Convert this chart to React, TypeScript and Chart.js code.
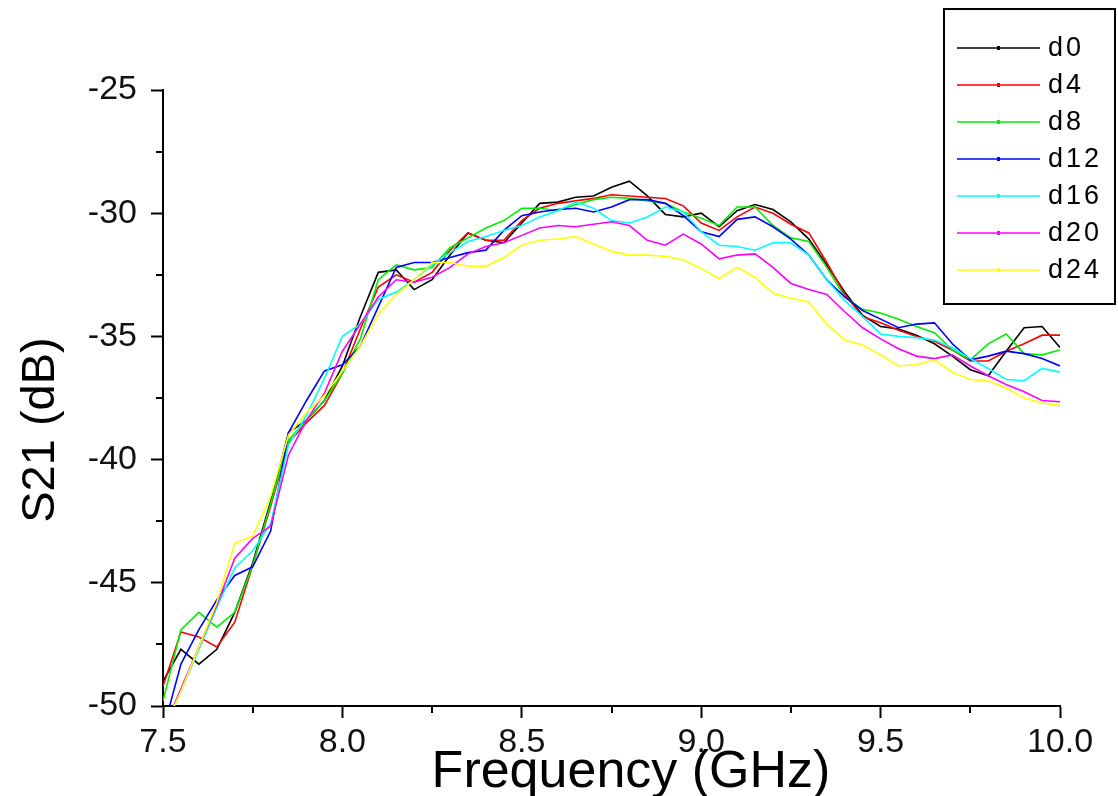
import React, { useEffect, useRef } from "react";
import { Chart, registerables } from "chart.js";

Chart.register(...registerables);

const FREQ = [
  7.5, 7.55, 7.6, 7.65, 7.7, 7.75, 7.8, 7.85, 7.9, 7.95,
  8.0, 8.05, 8.1, 8.15, 8.2, 8.25, 8.3, 8.35, 8.4, 8.45,
  8.5, 8.55, 8.6, 8.65, 8.7, 8.75, 8.8, 8.85, 8.9, 8.95,
  9.0, 9.05, 9.1, 9.15, 9.2, 9.25, 9.3, 9.35, 9.4, 9.45,
  9.5, 9.55, 9.6, 9.65, 9.7, 9.75, 9.8, 9.85, 9.9, 9.95,
  10.0,
];

const D0 = [
  -49.0, -47.7, -48.3, -47.7, -46.2, -44.2, -41.7, -38.9, -38.4, -37.6,
  -36.2, -34.2, -32.4, -32.3, -33.1, -32.7, -31.7, -30.8, -31.1, -31.2,
  -30.4, -29.6, -29.55, -29.35, -29.3, -28.95, -28.7, -29.3, -30.05, -30.15,
  -30.0, -30.55, -29.9, -29.65, -29.85, -30.35, -31.05, -32.1, -33.2, -34.15,
  -34.6, -34.7, -34.95, -35.3, -35.8, -36.35, -36.6, -35.6, -34.65, -34.6,
  -35.45,
];
const D4 = [
  -49.2, -47.0, -47.2, -47.6, -46.6, -44.3, -41.9, -39.3, -38.5, -37.8,
  -36.5, -34.7, -33.0, -32.5, -32.8, -32.4, -31.5, -30.8, -31.1, -31.1,
  -30.3, -29.8, -29.6, -29.5, -29.4, -29.25, -29.3, -29.35, -29.4, -29.7,
  -30.4, -30.7, -30.15, -29.75, -30.0, -30.45, -30.8, -32.0, -33.3, -34.2,
  -34.45, -34.75, -35.0, -35.2, -35.55, -36.0, -36.0, -35.6, -35.3, -34.95,
  -34.95,
];
const D8 = [
  -49.8, -46.9, -46.2, -46.8, -46.2, -44.3, -41.8, -39.2, -38.4, -37.6,
  -36.5, -35.1, -32.7, -32.1, -32.3, -32.2, -31.4, -31.0, -30.6, -30.3,
  -29.8, -29.8, -29.9, -29.65, -29.45, -29.35, -29.4, -29.5, -29.6, -29.95,
  -30.2, -30.5, -29.75, -29.75, -30.5, -31.0, -31.15, -32.2, -33.4, -33.9,
  -34.05, -34.3, -34.6, -34.85, -35.55, -35.95, -35.3, -34.9, -35.7, -35.75,
  -35.55,
];
const D12 = [
  -51.0, -48.3, -46.9, -45.7, -44.7, -44.35, -42.9, -38.9, -37.6, -36.4,
  -36.15, -35.4, -33.8, -32.2, -32.0, -32.0, -31.8, -31.6, -31.5, -30.7,
  -30.1, -29.95, -29.85, -29.8, -29.95, -29.75, -29.45, -29.45, -29.6, -30.1,
  -30.75, -30.95, -30.25, -30.15, -30.55, -31.05, -31.7, -32.7, -33.4, -33.95,
  -34.3, -34.65, -34.5, -34.45, -35.3, -35.95, -35.8, -35.6, -35.7, -35.9,
  -36.2,
];
const D16 = [
  -51.0, -49.4, -47.7, -46.0, -44.4, -43.7, -42.6, -39.4, -38.2, -36.7,
  -35.0, -34.5, -33.5, -33.2, -32.7, -32.1, -31.6, -31.15, -30.95, -30.7,
  -30.5, -30.15, -29.9, -29.55, -29.8, -30.3, -30.4, -30.15, -29.75, -29.95,
  -30.75, -31.3, -31.35, -31.5, -31.2, -31.2, -31.7, -32.7, -33.55, -34.2,
  -34.9, -35.0, -35.05, -35.15, -35.45, -35.9, -36.3, -36.75, -36.8, -36.3,
  -36.45,
];
const D20 = [
  -51.0, -49.3, -47.6, -45.9, -44.0, -43.2, -42.7, -39.8, -38.4, -37.3,
  -35.6, -34.5, -33.4, -32.7, -32.8, -32.6, -32.2, -31.65, -31.35, -31.2,
  -30.9, -30.6, -30.5, -30.55, -30.45, -30.35, -30.5, -31.1, -31.3, -30.85,
  -31.25, -31.85, -31.7, -31.65, -32.2, -32.85, -33.1, -33.3, -34.0, -34.65,
  -35.1, -35.5, -35.8, -35.9, -35.75, -36.2, -36.6, -36.95, -37.25, -37.6,
  -37.65,
];
const D24 = [
  -51.0, -49.4, -47.6, -45.8, -43.4, -43.1, -41.5, -39.0, -38.1, -37.4,
  -36.4, -35.4, -34.1, -33.3, -32.7, -32.0, -32.0, -32.15, -32.15, -31.8,
  -31.3, -31.1, -31.05, -30.95, -31.25, -31.55, -31.7, -31.7, -31.75, -31.9,
  -32.25, -32.65, -32.2, -32.6, -33.25, -33.45, -33.6, -34.5, -35.15, -35.35,
  -35.75, -36.2, -36.15, -35.95, -36.45, -36.75, -36.8, -37.1, -37.5, -37.7,
  -37.8,
];

const SERIES_NAMES = ["d0", "d4", "d8", "d12", "d16", "d20", "d24"];
const SERIES_VALUES = [D0, D4, D8, D12, D16, D20, D24];
const SERIES_COLORS = ["#000000", "#ff0000", "#00ee00", "#0000ff", "#00ffff", "#ff00ff", "#ffff00"];

const Y_MINOR = [-27.5, -32.5, -37.5, -42.5, -47.5];
const X_MINOR = [7.75, 8.25, 8.75, 9.25, 9.75];

const X_TITLE = "Frequency (GHz)";
const Y_TITLE = "S21 (dB)";

const FONT = "'Liberation Sans', Arial, sans-serif";

const extrasPlugin = {
  id: "extras",
  afterDraw(chart: any) {
    const ctx = chart.ctx;
    const xs = chart.scales.x;
    const ys = chart.scales.y;
    const area = chart.chartArea;
    ctx.save();
    // minor ticks
    ctx.strokeStyle = "#000";
    ctx.lineWidth = 2;
    ctx.beginPath();
    Y_MINOR.forEach((v) => {
      const py = Math.round(ys.getPixelForValue(v));
      ctx.moveTo(area.left - 7, py);
      ctx.lineTo(area.left, py);
    });
    X_MINOR.forEach((v) => {
      const px = Math.round(xs.getPixelForValue(v));
      ctx.moveTo(px, area.bottom);
      ctx.lineTo(px, area.bottom + 7);
    });
    ctx.stroke();

    // axis titles
    ctx.fillStyle = "#000";
    ctx.font = `52px ${FONT}`;
    ctx.textAlign = "center";
    ctx.textBaseline = "alphabetic";
    ctx.fillText(X_TITLE, 631, 787);

    ctx.save();
    ctx.translate(54, 430);
    ctx.rotate(-Math.PI / 2);
    ctx.font = `47px ${FONT}`;
    ctx.textAlign = "center";
    ctx.textBaseline = "alphabetic";
    ctx.fillText(Y_TITLE, 0, 0);
    ctx.restore();

    // legend
    ctx.fillStyle = "#fff";
    ctx.fillRect(944, 9, 171, 295);
    ctx.strokeStyle = "#000";
    ctx.lineWidth = 2;
    ctx.strokeRect(944, 9, 171, 295);
    ctx.font = `27px ${FONT}`;
    ctx.textAlign = "left";
    ctx.textBaseline = "middle";
    try {
      (ctx as any).letterSpacing = "3px";
    } catch (e) {}
    SERIES_NAMES.forEach((name, i) => {
      const yy = Math.round(47.5 + i * 37.1);
      ctx.strokeStyle = SERIES_COLORS[i];
      ctx.lineWidth = 1.6;
      ctx.beginPath();
      ctx.moveTo(957, yy);
      ctx.lineTo(1040, yy);
      ctx.stroke();
      ctx.fillStyle = SERIES_COLORS[i];
      ctx.fillRect(997, yy - 2, 3, 4);
      ctx.fillStyle = "#000";
      ctx.fillText(name, 1048, yy + 1);
    });
    ctx.restore();
  },
};

export default function App() {
  const ref = useRef<HTMLCanvasElement | null>(null);

  useEffect(() => {
    if (!ref.current) return;
    const datasets = SERIES_NAMES.map((name, i) => ({
      label: name,
      data: FREQ.map((f, k) => ({ x: f, y: SERIES_VALUES[i][k] })),
      borderColor: SERIES_COLORS[i],
      backgroundColor: SERIES_COLORS[i],
      borderWidth: 1.6,
      pointRadius: 0,
      tension: 0,
      fill: false,
      order: SERIES_NAMES.length - i,
    }));

    const chart = new Chart(ref.current, {
      type: "line",
      data: { datasets },
      options: {
        animation: false,
        responsive: false,
        maintainAspectRatio: false,
        layout: { padding: { left: 0, top: 90, right: 58, bottom: 0 } },
        plugins: {
          legend: { display: false },
          tooltip: { enabled: false },
          title: { display: false },
        },
        scales: {
          x: {
            type: "linear",
            min: 7.5,
            max: 10,
            afterFit: (axis: any) => {
              axis.height = 90;
            },
            ticks: {
              stepSize: 0.5,
              color: "#111",
              font: { family: FONT, size: 34 },
              padding: 4,
              maxRotation: 0,
              autoSkip: false,
              callback: (v: any) => Number(v).toFixed(1),
            },
            grid: {
              display: true,
              drawOnChartArea: false,
              drawTicks: true,
              tickLength: 12,
              tickWidth: 2,
              tickColor: "#000",
            },
            border: { display: true, color: "#000", width: 2 },
          },
          y: {
            type: "linear",
            min: -50,
            max: -25,
            afterFit: (axis: any) => {
              axis.width = 163;
            },
            ticks: {
              stepSize: 5,
              color: "#111",
              font: { family: FONT, size: 34 },
              padding: 14,
              callback: (v: any) => String(v),
            },
            grid: {
              display: true,
              drawOnChartArea: false,
              drawTicks: true,
              tickLength: 12,
              tickWidth: 2,
              tickColor: "#000",
            },
            border: { display: true, color: "#000", width: 2 },
          },
        },
      },
      plugins: [extrasPlugin],
    });
    return () => chart.destroy();
  }, []);

  return (
    <div style={{ position: "fixed", left: 0, top: 0, width: 1118, height: 796, background: "#fff" }}>
      <canvas ref={ref} width={1118} height={796} style={{ width: 1118, height: 796, display: "block" }} />
    </div>
  );
}
